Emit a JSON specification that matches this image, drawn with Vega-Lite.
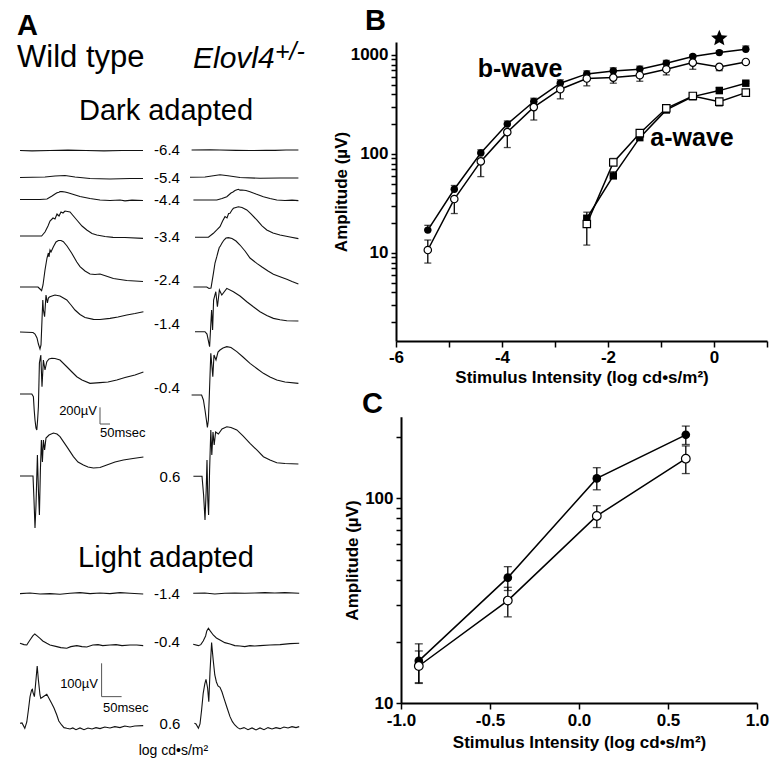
{
"$schema":"https://vega.github.io/schema/vega-lite/v6.json",
"width":776,"height":776,"padding":0,"autosize":{"type":"none"},"background":"white",
"config":{"font":"Liberation Sans","view":{"stroke":null},
 "axis":{"labelFont":"Liberation Sans","titleFont":"Liberation Sans","labelFontSize":17,"labelFontWeight":"bold","labelColor":"black","titleFontSize":17,"titleFontWeight":"bold","titleColor":"black","tickColor":"black","tickWidth":1.5,"domainColor":"black","domainWidth":2,"grid":false,"labelFlush":false,"labelOverlap":false,"labelPadding":3},
 "text":{"color":"black","font":"Liberation Sans"}},
"datasets":{
"dark":[
{"geno":"WT","int":"-6.4","t":0,"v":0},{"geno":"WT","int":"-6.4","t":60,"v":-4},{"geno":"WT","int":"-6.4","t":150,"v":0},{"geno":"WT","int":"-6.4","t":240,"v":4},{"geno":"WT","int":"-6.4","t":330,"v":0},{"geno":"WT","int":"-6.4","t":420,"v":-4},{"geno":"WT","int":"-6.4","t":510,"v":0},{"geno":"WT","int":"-6.4","t":615,"v":0},
{"geno":"WT","int":"-5.4","t":0,"v":0},{"geno":"WT","int":"-5.4","t":125,"v":6},{"geno":"WT","int":"-5.4","t":175,"v":18},{"geno":"WT","int":"-5.4","t":225,"v":24},{"geno":"WT","int":"-5.4","t":275,"v":6},{"geno":"WT","int":"-5.4","t":350,"v":-12},{"geno":"WT","int":"-5.4","t":450,"v":-18},{"geno":"WT","int":"-5.4","t":550,"v":-12},{"geno":"WT","int":"-5.4","t":615,"v":-12},
{"geno":"WT","int":"-4.4","t":0,"v":0},{"geno":"WT","int":"-4.4","t":100,"v":0},{"geno":"WT","int":"-4.4","t":135,"v":6},{"geno":"WT","int":"-4.4","t":160,"v":42},{"geno":"WT","int":"-4.4","t":175,"v":66},{"geno":"WT","int":"-4.4","t":185,"v":80},{"geno":"WT","int":"-4.4","t":195,"v":88},{"geno":"WT","int":"-4.4","t":200,"v":96},{"geno":"WT","int":"-4.4","t":210,"v":94},{"geno":"WT","int":"-4.4","t":225,"v":90},{"geno":"WT","int":"-4.4","t":240,"v":80},{"geno":"WT","int":"-4.4","t":260,"v":66},{"geno":"WT","int":"-4.4","t":300,"v":36},{"geno":"WT","int":"-4.4","t":350,"v":12},{"geno":"WT","int":"-4.4","t":400,"v":-6},{"geno":"WT","int":"-4.4","t":450,"v":-12},{"geno":"WT","int":"-4.4","t":500,"v":-6},{"geno":"WT","int":"-4.4","t":525,"v":-16},{"geno":"WT","int":"-4.4","t":560,"v":-8},{"geno":"WT","int":"-4.4","t":615,"v":-12},
{"geno":"WT","int":"-3.4","t":0,"v":0},{"geno":"WT","int":"-3.4","t":75,"v":0},{"geno":"WT","int":"-3.4","t":108,"v":0},{"geno":"WT","int":"-3.4","t":125,"v":48},{"geno":"WT","int":"-3.4","t":140,"v":120},{"geno":"WT","int":"-3.4","t":150,"v":180},{"geno":"WT","int":"-3.4","t":165,"v":216},{"geno":"WT","int":"-3.4","t":175,"v":204},{"geno":"WT","int":"-3.4","t":185,"v":264},{"geno":"WT","int":"-3.4","t":195,"v":240},{"geno":"WT","int":"-3.4","t":205,"v":288},{"geno":"WT","int":"-3.4","t":215,"v":276},{"geno":"WT","int":"-3.4","t":225,"v":300},{"geno":"WT","int":"-3.4","t":250,"v":288},{"geno":"WT","int":"-3.4","t":284,"v":192},{"geno":"WT","int":"-3.4","t":310,"v":120},{"geno":"WT","int":"-3.4","t":334,"v":72},{"geno":"WT","int":"-3.4","t":360,"v":30},{"geno":"WT","int":"-3.4","t":384,"v":12},{"geno":"WT","int":"-3.4","t":425,"v":-6},{"geno":"WT","int":"-3.4","t":465,"v":-16},{"geno":"WT","int":"-3.4","t":525,"v":-18},{"geno":"WT","int":"-3.4","t":615,"v":-28},
{"geno":"WT","int":"-2.4","t":0,"v":0},{"geno":"WT","int":"-2.4","t":90,"v":0},{"geno":"WT","int":"-2.4","t":100,"v":-24},{"geno":"WT","int":"-2.4","t":108,"v":-44},{"geno":"WT","int":"-2.4","t":115,"v":24},{"geno":"WT","int":"-2.4","t":125,"v":204},{"geno":"WT","int":"-2.4","t":135,"v":348},{"geno":"WT","int":"-2.4","t":142,"v":408},{"geno":"WT","int":"-2.4","t":145,"v":360},{"geno":"WT","int":"-2.4","t":150,"v":444},{"geno":"WT","int":"-2.4","t":155,"v":420},{"geno":"WT","int":"-2.4","t":167,"v":484},{"geno":"WT","int":"-2.4","t":180,"v":540},{"geno":"WT","int":"-2.4","t":192,"v":558},{"geno":"WT","int":"-2.4","t":205,"v":558},{"geno":"WT","int":"-2.4","t":217,"v":544},{"geno":"WT","int":"-2.4","t":235,"v":492},{"geno":"WT","int":"-2.4","t":258,"v":408},{"geno":"WT","int":"-2.4","t":284,"v":300},{"geno":"WT","int":"-2.4","t":300,"v":244},{"geno":"WT","int":"-2.4","t":325,"v":192},{"geno":"WT","int":"-2.4","t":350,"v":156},{"geno":"WT","int":"-2.4","t":375,"v":150},{"geno":"WT","int":"-2.4","t":400,"v":156},{"geno":"WT","int":"-2.4","t":430,"v":132},{"geno":"WT","int":"-2.4","t":467,"v":102},{"geno":"WT","int":"-2.4","t":500,"v":90},{"geno":"WT","int":"-2.4","t":534,"v":78},{"geno":"WT","int":"-2.4","t":575,"v":72},{"geno":"WT","int":"-2.4","t":615,"v":66},
{"geno":"WT","int":"-1.4","t":0,"v":0},{"geno":"WT","int":"-1.4","t":65,"v":-6},{"geno":"WT","int":"-1.4","t":75,"v":-24},{"geno":"WT","int":"-1.4","t":85,"v":-72},{"geno":"WT","int":"-1.4","t":92,"v":-144},{"geno":"WT","int":"-1.4","t":100,"v":-204},{"geno":"WT","int":"-1.4","t":105,"v":-156},{"geno":"WT","int":"-1.4","t":110,"v":144},{"geno":"WT","int":"-1.4","t":114,"v":384},{"geno":"WT","int":"-1.4","t":117,"v":264},{"geno":"WT","int":"-1.4","t":123,"v":184},{"geno":"WT","int":"-1.4","t":130,"v":444},{"geno":"WT","int":"-1.4","t":137,"v":348},{"geno":"WT","int":"-1.4","t":142,"v":408},{"geno":"WT","int":"-1.4","t":147,"v":420},{"geno":"WT","int":"-1.4","t":160,"v":432},{"geno":"WT","int":"-1.4","t":175,"v":444},{"geno":"WT","int":"-1.4","t":200,"v":432},{"geno":"WT","int":"-1.4","t":234,"v":384},{"geno":"WT","int":"-1.4","t":255,"v":324},{"geno":"WT","int":"-1.4","t":275,"v":264},{"geno":"WT","int":"-1.4","t":300,"v":210},{"geno":"WT","int":"-1.4","t":325,"v":174},{"geno":"WT","int":"-1.4","t":367,"v":152},{"geno":"WT","int":"-1.4","t":400,"v":150},{"geno":"WT","int":"-1.4","t":450,"v":164},{"geno":"WT","int":"-1.4","t":490,"v":180},{"geno":"WT","int":"-1.4","t":534,"v":204},{"geno":"WT","int":"-1.4","t":575,"v":222},{"geno":"WT","int":"-1.4","t":617,"v":244},
{"geno":"WT","int":"-0.4","t":0,"v":0},{"geno":"WT","int":"-0.4","t":59,"v":0},{"geno":"WT","int":"-0.4","t":67,"v":-32},{"geno":"WT","int":"-0.4","t":71,"v":-192},{"geno":"WT","int":"-0.4","t":75,"v":-312},{"geno":"WT","int":"-0.4","t":80,"v":-408},{"geno":"WT","int":"-0.4","t":84,"v":-432},{"geno":"WT","int":"-0.4","t":88,"v":-312},{"geno":"WT","int":"-0.4","t":92,"v":-152},{"geno":"WT","int":"-0.4","t":97,"v":372},{"geno":"WT","int":"-0.4","t":104,"v":468},{"geno":"WT","int":"-0.4","t":110,"v":88},{"geno":"WT","int":"-0.4","t":117,"v":408},{"geno":"WT","int":"-0.4","t":125,"v":288},{"geno":"WT","int":"-0.4","t":134,"v":387},{"geno":"WT","int":"-0.4","t":145,"v":420},{"geno":"WT","int":"-0.4","t":159,"v":428},{"geno":"WT","int":"-0.4","t":175,"v":426},{"geno":"WT","int":"-0.4","t":200,"v":408},{"geno":"WT","int":"-0.4","t":234,"v":327},{"geno":"WT","int":"-0.4","t":260,"v":264},{"geno":"WT","int":"-0.4","t":284,"v":207},{"geno":"WT","int":"-0.4","t":310,"v":168},{"geno":"WT","int":"-0.4","t":350,"v":128},{"geno":"WT","int":"-0.4","t":400,"v":136},{"geno":"WT","int":"-0.4","t":440,"v":144},{"geno":"WT","int":"-0.4","t":484,"v":168},{"geno":"WT","int":"-0.4","t":525,"v":198},{"geno":"WT","int":"-0.4","t":575,"v":228},{"geno":"WT","int":"-0.4","t":617,"v":264},
{"geno":"WT","int":"0.6","t":0,"v":0},{"geno":"WT","int":"0.6","t":65,"v":0},{"geno":"WT","int":"0.6","t":70,"v":-288},{"geno":"WT","int":"0.6","t":75,"v":-624},{"geno":"WT","int":"0.6","t":80,"v":-348},{"geno":"WT","int":"0.6","t":87,"v":252},{"geno":"WT","int":"0.6","t":92,"v":-168},{"geno":"WT","int":"0.6","t":97,"v":-468},{"geno":"WT","int":"0.6","t":102,"v":72},{"geno":"WT","int":"0.6","t":107,"v":432},{"geno":"WT","int":"0.6","t":112,"v":168},{"geno":"WT","int":"0.6","t":117,"v":432},{"geno":"WT","int":"0.6","t":123,"v":312},{"geno":"WT","int":"0.6","t":130,"v":456},{"geno":"WT","int":"0.6","t":145,"v":492},{"geno":"WT","int":"0.6","t":167,"v":516},{"geno":"WT","int":"0.6","t":185,"v":504},{"geno":"WT","int":"0.6","t":200,"v":472},{"geno":"WT","int":"0.6","t":234,"v":352},{"geno":"WT","int":"0.6","t":267,"v":232},{"geno":"WT","int":"0.6","t":290,"v":168},{"geno":"WT","int":"0.6","t":317,"v":132},{"geno":"WT","int":"0.6","t":340,"v":108},{"geno":"WT","int":"0.6","t":367,"v":96},{"geno":"WT","int":"0.6","t":400,"v":102},{"geno":"WT","int":"0.6","t":434,"v":132},{"geno":"WT","int":"0.6","t":475,"v":168},{"geno":"WT","int":"0.6","t":517,"v":192},{"geno":"WT","int":"0.6","t":565,"v":210},{"geno":"WT","int":"0.6","t":617,"v":228},
{"geno":"E","int":"-6.4","t":8,"v":0},{"geno":"E","int":"-6.4","t":100,"v":2},{"geno":"E","int":"-6.4","t":150,"v":0},{"geno":"E","int":"-6.4","t":230,"v":-4},{"geno":"E","int":"-6.4","t":300,"v":-6},{"geno":"E","int":"-6.4","t":380,"v":-4},{"geno":"E","int":"-6.4","t":425,"v":-4},{"geno":"E","int":"-6.4","t":480,"v":0},{"geno":"E","int":"-6.4","t":542,"v":0},
{"geno":"E","int":"-5.4","t":0,"v":0},{"geno":"E","int":"-5.4","t":75,"v":4},{"geno":"E","int":"-5.4","t":125,"v":22},{"geno":"E","int":"-5.4","t":150,"v":31},{"geno":"E","int":"-5.4","t":190,"v":18},{"geno":"E","int":"-5.4","t":250,"v":-2},{"geno":"E","int":"-5.4","t":350,"v":-12},{"geno":"E","int":"-5.4","t":450,"v":-8},{"geno":"E","int":"-5.4","t":542,"v":-8},
{"geno":"E","int":"-4.4","t":17,"v":0},{"geno":"E","int":"-4.4","t":100,"v":0},{"geno":"E","int":"-4.4","t":134,"v":0},{"geno":"E","int":"-4.4","t":160,"v":18},{"geno":"E","int":"-4.4","t":184,"v":40},{"geno":"E","int":"-4.4","t":205,"v":84},{"geno":"E","int":"-4.4","t":215,"v":96},{"geno":"E","int":"-4.4","t":225,"v":114},{"geno":"E","int":"-4.4","t":235,"v":122},{"geno":"E","int":"-4.4","t":242,"v":128},{"geno":"E","int":"-4.4","t":250,"v":118},{"geno":"E","int":"-4.4","t":260,"v":120},{"geno":"E","int":"-4.4","t":280,"v":114},{"geno":"E","int":"-4.4","t":300,"v":100},{"geno":"E","int":"-4.4","t":330,"v":72},{"geno":"E","int":"-4.4","t":367,"v":40},{"geno":"E","int":"-4.4","t":400,"v":18},{"geno":"E","int":"-4.4","t":434,"v":0},{"geno":"E","int":"-4.4","t":475,"v":-6},{"geno":"E","int":"-4.4","t":510,"v":-2},{"geno":"E","int":"-4.4","t":542,"v":-8},
{"geno":"E","int":"-3.4","t":25,"v":0},{"geno":"E","int":"-3.4","t":75,"v":0},{"geno":"E","int":"-3.4","t":92,"v":0},{"geno":"E","int":"-3.4","t":117,"v":48},{"geno":"E","int":"-3.4","t":134,"v":88},{"geno":"E","int":"-3.4","t":150,"v":128},{"geno":"E","int":"-3.4","t":163,"v":196},{"geno":"E","int":"-3.4","t":175,"v":248},{"geno":"E","int":"-3.4","t":185,"v":232},{"geno":"E","int":"-3.4","t":193,"v":286},{"geno":"E","int":"-3.4","t":200,"v":288},{"geno":"E","int":"-3.4","t":210,"v":328},{"geno":"E","int":"-3.4","t":217,"v":348},{"geno":"E","int":"-3.4","t":242,"v":367},{"geno":"E","int":"-3.4","t":260,"v":358},{"geno":"E","int":"-3.4","t":284,"v":328},{"geno":"E","int":"-3.4","t":305,"v":280},{"geno":"E","int":"-3.4","t":334,"v":208},{"geno":"E","int":"-3.4","t":360,"v":136},{"geno":"E","int":"-3.4","t":384,"v":88},{"geno":"E","int":"-3.4","t":415,"v":52},{"geno":"E","int":"-3.4","t":450,"v":28},{"geno":"E","int":"-3.4","t":500,"v":4},{"geno":"E","int":"-3.4","t":542,"v":-16},
{"geno":"E","int":"-2.4","t":17,"v":0},{"geno":"E","int":"-2.4","t":84,"v":0},{"geno":"E","int":"-2.4","t":95,"v":-18},{"geno":"E","int":"-2.4","t":105,"v":-12},{"geno":"E","int":"-2.4","t":117,"v":164},{"geno":"E","int":"-2.4","t":125,"v":288},{"geno":"E","int":"-2.4","t":134,"v":364},{"geno":"E","int":"-2.4","t":140,"v":420},{"geno":"E","int":"-2.4","t":147,"v":480},{"geno":"E","int":"-2.4","t":150,"v":484},{"geno":"E","int":"-2.4","t":160,"v":528},{"geno":"E","int":"-2.4","t":170,"v":564},{"geno":"E","int":"-2.4","t":180,"v":588},{"geno":"E","int":"-2.4","t":192,"v":592},{"geno":"E","int":"-2.4","t":210,"v":582},{"geno":"E","int":"-2.4","t":230,"v":552},{"geno":"E","int":"-2.4","t":250,"v":504},{"geno":"E","int":"-2.4","t":275,"v":432},{"geno":"E","int":"-2.4","t":300,"v":348},{"geno":"E","int":"-2.4","t":334,"v":284},{"geno":"E","int":"-2.4","t":360,"v":240},{"geno":"E","int":"-2.4","t":390,"v":192},{"geno":"E","int":"-2.4","t":417,"v":152},{"geno":"E","int":"-2.4","t":450,"v":124},{"geno":"E","int":"-2.4","t":484,"v":92},{"geno":"E","int":"-2.4","t":510,"v":66},{"geno":"E","int":"-2.4","t":542,"v":36},
{"geno":"E","int":"-1.4","t":25,"v":0},{"geno":"E","int":"-1.4","t":75,"v":0},{"geno":"E","int":"-1.4","t":85,"v":-28},{"geno":"E","int":"-1.4","t":98,"v":-180},{"geno":"E","int":"-1.4","t":108,"v":260},{"geno":"E","int":"-1.4","t":113,"v":20},{"geno":"E","int":"-1.4","t":118,"v":380},{"geno":"E","int":"-1.4","t":129,"v":480},{"geno":"E","int":"-1.4","t":137,"v":300},{"geno":"E","int":"-1.4","t":147,"v":500},{"geno":"E","int":"-1.4","t":159,"v":440},{"geno":"E","int":"-1.4","t":184,"v":520},{"geno":"E","int":"-1.4","t":217,"v":480},{"geno":"E","int":"-1.4","t":250,"v":428},{"geno":"E","int":"-1.4","t":284,"v":360},{"geno":"E","int":"-1.4","t":315,"v":302},{"geno":"E","int":"-1.4","t":350,"v":240},{"geno":"E","int":"-1.4","t":384,"v":194},{"geno":"E","int":"-1.4","t":417,"v":160},{"geno":"E","int":"-1.4","t":450,"v":144},{"geno":"E","int":"-1.4","t":484,"v":132},{"geno":"E","int":"-1.4","t":542,"v":128},
{"geno":"E","int":"-0.4","t":8,"v":0},{"geno":"E","int":"-0.4","t":58,"v":0},{"geno":"E","int":"-0.4","t":67,"v":-60},{"geno":"E","int":"-0.4","t":75,"v":-180},{"geno":"E","int":"-0.4","t":82,"v":-300},{"geno":"E","int":"-0.4","t":87,"v":-390},{"geno":"E","int":"-0.4","t":92,"v":-300},{"geno":"E","int":"-0.4","t":97,"v":20},{"geno":"E","int":"-0.4","t":104,"v":500},{"geno":"E","int":"-0.4","t":114,"v":220},{"geno":"E","int":"-0.4","t":120,"v":480},{"geno":"E","int":"-0.4","t":130,"v":420},{"geno":"E","int":"-0.4","t":140,"v":516},{"geno":"E","int":"-0.4","t":150,"v":540},{"geno":"E","int":"-0.4","t":165,"v":564},{"geno":"E","int":"-0.4","t":184,"v":580},{"geno":"E","int":"-0.4","t":205,"v":570},{"geno":"E","int":"-0.4","t":234,"v":520},{"geno":"E","int":"-0.4","t":265,"v":456},{"geno":"E","int":"-0.4","t":300,"v":380},{"geno":"E","int":"-0.4","t":334,"v":318},{"geno":"E","int":"-0.4","t":367,"v":260},{"geno":"E","int":"-0.4","t":400,"v":216},{"geno":"E","int":"-0.4","t":434,"v":180},{"geno":"E","int":"-0.4","t":475,"v":156},{"geno":"E","int":"-0.4","t":542,"v":140},
{"geno":"E","int":"0.6","t":17,"v":0},{"geno":"E","int":"0.6","t":60,"v":0},{"geno":"E","int":"0.6","t":68,"v":-224},{"geno":"E","int":"0.6","t":75,"v":-524},{"geno":"E","int":"0.6","t":81,"v":-164},{"geno":"E","int":"0.6","t":85,"v":196},{"geno":"E","int":"0.6","t":89,"v":-284},{"geno":"E","int":"0.6","t":93,"v":-464},{"geno":"E","int":"0.6","t":98,"v":76},{"geno":"E","int":"0.6","t":104,"v":556},{"geno":"E","int":"0.6","t":109,"v":256},{"geno":"E","int":"0.6","t":115,"v":532},{"geno":"E","int":"0.6","t":121,"v":376},{"geno":"E","int":"0.6","t":128,"v":532},{"geno":"E","int":"0.6","t":142,"v":508},{"geno":"E","int":"0.6","t":160,"v":568},{"geno":"E","int":"0.6","t":184,"v":595},{"geno":"E","int":"0.6","t":205,"v":586},{"geno":"E","int":"0.6","t":234,"v":556},{"geno":"E","int":"0.6","t":265,"v":484},{"geno":"E","int":"0.6","t":300,"v":396},{"geno":"E","int":"0.6","t":334,"v":316},{"geno":"E","int":"0.6","t":367,"v":235},{"geno":"E","int":"0.6","t":400,"v":196},{"geno":"E","int":"0.6","t":434,"v":163},{"geno":"E","int":"0.6","t":475,"v":154},{"geno":"E","int":"0.6","t":542,"v":148}
],
"light":[
{"geno":"WT","int":"-1.4","t":0,"v":-1},{"geno":"WT","int":"-1.4","t":25,"v":1},{"geno":"WT","int":"-1.4","t":50,"v":-2},{"geno":"WT","int":"-1.4","t":75,"v":-1},{"geno":"WT","int":"-1.4","t":100,"v":-3},{"geno":"WT","int":"-1.4","t":125,"v":0},{"geno":"WT","int":"-1.4","t":150,"v":2},{"geno":"WT","int":"-1.4","t":175,"v":-1},{"geno":"WT","int":"-1.4","t":200,"v":1},{"geno":"WT","int":"-1.4","t":225,"v":-1},{"geno":"WT","int":"-1.4","t":250,"v":2},{"geno":"WT","int":"-1.4","t":275,"v":0},{"geno":"WT","int":"-1.4","t":308,"v":-2},
{"geno":"WT","int":"-0.4","t":0,"v":0},{"geno":"WT","int":"-0.4","t":10,"v":-4},{"geno":"WT","int":"-0.4","t":17,"v":-5},{"geno":"WT","int":"-0.4","t":20,"v":1},{"geno":"WT","int":"-0.4","t":25,"v":10},{"geno":"WT","int":"-0.4","t":32,"v":22},{"geno":"WT","int":"-0.4","t":37,"v":28},{"geno":"WT","int":"-0.4","t":42,"v":23},{"geno":"WT","int":"-0.4","t":50,"v":15},{"geno":"WT","int":"-0.4","t":57,"v":7},{"geno":"WT","int":"-0.4","t":67,"v":0},{"geno":"WT","int":"-0.4","t":75,"v":-5},{"geno":"WT","int":"-0.4","t":92,"v":-10},{"geno":"WT","int":"-0.4","t":102,"v":-13},{"geno":"WT","int":"-0.4","t":117,"v":-15},{"geno":"WT","int":"-0.4","t":127,"v":-10},{"geno":"WT","int":"-0.4","t":142,"v":-7},{"geno":"WT","int":"-0.4","t":155,"v":-10},{"geno":"WT","int":"-0.4","t":167,"v":-11},{"geno":"WT","int":"-0.4","t":182,"v":-5},{"geno":"WT","int":"-0.4","t":195,"v":-4},{"geno":"WT","int":"-0.4","t":207,"v":-7},{"geno":"WT","int":"-0.4","t":225,"v":-5},{"geno":"WT","int":"-0.4","t":240,"v":-4},{"geno":"WT","int":"-0.4","t":255,"v":-7},{"geno":"WT","int":"-0.4","t":275,"v":-5},{"geno":"WT","int":"-0.4","t":292,"v":-5},{"geno":"WT","int":"-0.4","t":308,"v":-7},
{"geno":"WT","int":"0.6","t":0,"v":0},{"geno":"WT","int":"0.6","t":5,"v":1},{"geno":"WT","int":"0.6","t":12,"v":-15},{"geno":"WT","int":"0.6","t":17,"v":4},{"geno":"WT","int":"0.6","t":21,"v":40},{"geno":"WT","int":"0.6","t":25,"v":79},{"geno":"WT","int":"0.6","t":29,"v":100},{"geno":"WT","int":"0.6","t":31,"v":102},{"geno":"WT","int":"0.6","t":32,"v":94},{"geno":"WT","int":"0.6","t":36,"v":80},{"geno":"WT","int":"0.6","t":39,"v":118},{"geno":"WT","int":"0.6","t":43,"v":172},{"geno":"WT","int":"0.6","t":46,"v":130},{"geno":"WT","int":"0.6","t":50,"v":85},{"geno":"WT","int":"0.6","t":52,"v":75},{"geno":"WT","int":"0.6","t":57,"v":79},{"geno":"WT","int":"0.6","t":67,"v":87},{"geno":"WT","int":"0.6","t":72,"v":76},{"geno":"WT","int":"0.6","t":79,"v":60},{"geno":"WT","int":"0.6","t":85,"v":46},{"geno":"WT","int":"0.6","t":92,"v":25},{"geno":"WT","int":"0.6","t":97,"v":7},{"geno":"WT","int":"0.6","t":104,"v":-5},{"geno":"WT","int":"0.6","t":110,"v":-13},{"geno":"WT","int":"0.6","t":117,"v":-15},{"geno":"WT","int":"0.6","t":125,"v":-17},{"geno":"WT","int":"0.6","t":132,"v":-14},{"geno":"WT","int":"0.6","t":140,"v":-19},{"geno":"WT","int":"0.6","t":150,"v":-14},{"geno":"WT","int":"0.6","t":160,"v":-19},{"geno":"WT","int":"0.6","t":170,"v":-14},{"geno":"WT","int":"0.6","t":180,"v":-17},{"geno":"WT","int":"0.6","t":190,"v":-13},{"geno":"WT","int":"0.6","t":200,"v":-16},{"geno":"WT","int":"0.6","t":212,"v":-11},{"geno":"WT","int":"0.6","t":225,"v":-14},{"geno":"WT","int":"0.6","t":237,"v":-10},{"geno":"WT","int":"0.6","t":250,"v":-13},{"geno":"WT","int":"0.6","t":262,"v":-8},{"geno":"WT","int":"0.6","t":275,"v":-11},{"geno":"WT","int":"0.6","t":287,"v":-8},{"geno":"WT","int":"0.6","t":308,"v":-7},
{"geno":"E","int":"-1.4","t":8,"v":0},{"geno":"E","int":"-1.4","t":37,"v":1},{"geno":"E","int":"-1.4","t":62,"v":-2},{"geno":"E","int":"-1.4","t":87,"v":0},{"geno":"E","int":"-1.4","t":112,"v":1},{"geno":"E","int":"-1.4","t":137,"v":0},{"geno":"E","int":"-1.4","t":162,"v":1},{"geno":"E","int":"-1.4","t":187,"v":2},{"geno":"E","int":"-1.4","t":212,"v":1},{"geno":"E","int":"-1.4","t":237,"v":2},{"geno":"E","int":"-1.4","t":273,"v":0},
{"geno":"E","int":"-0.4","t":8,"v":0},{"geno":"E","int":"-0.4","t":21,"v":-4},{"geno":"E","int":"-0.4","t":27,"v":-1},{"geno":"E","int":"-0.4","t":33,"v":10},{"geno":"E","int":"-0.4","t":39,"v":25},{"geno":"E","int":"-0.4","t":42,"v":40},{"geno":"E","int":"-0.4","t":46,"v":48},{"geno":"E","int":"-0.4","t":50,"v":41},{"geno":"E","int":"-0.4","t":58,"v":28},{"geno":"E","int":"-0.4","t":66,"v":19},{"geno":"E","int":"-0.4","t":75,"v":13},{"geno":"E","int":"-0.4","t":87,"v":5},{"geno":"E","int":"-0.4","t":100,"v":1},{"geno":"E","int":"-0.4","t":112,"v":-4},{"geno":"E","int":"-0.4","t":125,"v":-5},{"geno":"E","int":"-0.4","t":137,"v":-7},{"geno":"E","int":"-0.4","t":150,"v":-4},{"geno":"E","int":"-0.4","t":162,"v":-5},{"geno":"E","int":"-0.4","t":175,"v":-4},{"geno":"E","int":"-0.4","t":200,"v":-2},{"geno":"E","int":"-0.4","t":225,"v":-1},{"geno":"E","int":"-0.4","t":250,"v":2},{"geno":"E","int":"-0.4","t":273,"v":3},
{"geno":"E","int":"0.6","t":11,"v":0},{"geno":"E","int":"0.6","t":15,"v":-2},{"geno":"E","int":"0.6","t":21,"v":-15},{"geno":"E","int":"0.6","t":25,"v":-2},{"geno":"E","int":"0.6","t":29,"v":40},{"geno":"E","int":"0.6","t":33,"v":90},{"geno":"E","int":"0.6","t":37,"v":118},{"geno":"E","int":"0.6","t":40,"v":132},{"geno":"E","int":"0.6","t":44,"v":106},{"geno":"E","int":"0.6","t":47,"v":65},{"geno":"E","int":"0.6","t":50,"v":154},{"geno":"E","int":"0.6","t":54,"v":242},{"geno":"E","int":"0.6","t":58,"v":190},{"geno":"E","int":"0.6","t":62,"v":145},{"geno":"E","int":"0.6","t":66,"v":124},{"geno":"E","int":"0.6","t":70,"v":112},{"geno":"E","int":"0.6","t":75,"v":108},{"geno":"E","int":"0.6","t":80,"v":94},{"geno":"E","int":"0.6","t":85,"v":75},{"geno":"E","int":"0.6","t":92,"v":49},{"geno":"E","int":"0.6","t":100,"v":20},{"geno":"E","int":"0.6","t":106,"v":5},{"geno":"E","int":"0.6","t":112,"v":-5},{"geno":"E","int":"0.6","t":119,"v":-13},{"geno":"E","int":"0.6","t":125,"v":-17},{"geno":"E","int":"0.6","t":135,"v":-13},{"geno":"E","int":"0.6","t":145,"v":-19},{"geno":"E","int":"0.6","t":155,"v":-14},{"geno":"E","int":"0.6","t":165,"v":-20},{"geno":"E","int":"0.6","t":175,"v":-14},{"geno":"E","int":"0.6","t":185,"v":-19},{"geno":"E","int":"0.6","t":195,"v":-13},{"geno":"E","int":"0.6","t":205,"v":-17},{"geno":"E","int":"0.6","t":215,"v":-13},{"geno":"E","int":"0.6","t":225,"v":-16},{"geno":"E","int":"0.6","t":235,"v":-11},{"geno":"E","int":"0.6","t":245,"v":-14},{"geno":"E","int":"0.6","t":255,"v":-10},{"geno":"E","int":"0.6","t":265,"v":-13},{"geno":"E","int":"0.6","t":273,"v":-10}
],
"labA":[
{"kind":"letter","txt":"A","t":-15,"v":1386},
{"kind":"head","txt":"Wild type","t":-15,"v":1002},
{"kind":"ital","txt":"Elovl4","t":865,"v":990},
{"kind":"sup","txt":"+/-","t":1275,"v":1086},
{"kind":"sub","txt":"Dark adapted","t":730,"v":366},
{"kind":"sub","txt":"Light adapted","t":730,"v":-4994},
{"kind":"int","txt":"-6.4","t":735,"v":-59},
{"kind":"int","txt":"-5.4","t":735,"v":-386},
{"kind":"int","txt":"-4.4","t":735,"v":-659},
{"kind":"int","txt":"-3.4","t":735,"v":-1099},
{"kind":"int","txt":"-2.4","t":735,"v":-1619},
{"kind":"int","txt":"-1.4","t":735,"v":-2138},
{"kind":"int","txt":"-0.4","t":735,"v":-2906},
{"kind":"int","txt":"0.6","t":750,"v":-3979},
{"kind":"int","txt":"-1.4","t":735,"v":-5378},
{"kind":"int","txt":"-0.4","t":735,"v":-5959},
{"kind":"int","txt":"0.6","t":750,"v":-6938},
{"kind":"unit","txt":"log cd•s/m²","t":767,"v":-7254},
{"kind":"barR","txt":"200µV","t":385,"v":-3174},
{"kind":"barL","txt":"50msec","t":400,"v":-3434},
{"kind":"barR","txt":"100µV","t":390,"v":-6454},
{"kind":"barL","txt":"50msec","t":415,"v":-6734}
],
"barsDark":[{"t":400,"t2":400,"v":-3282,"v2":-3082},{"t":400,"t2":450,"v":-3282,"v2":-3282}],
"barsLight":[{"t":204,"t2":204,"v":80,"v2":180},{"t":204,"t2":254,"v":80,"v2":80}],
"B":[
{"wave":"b","geno":"WT","x":-5.4,"v":17},{"wave":"b","geno":"WT","x":-4.9,"v":44},{"wave":"b","geno":"WT","x":-4.4,"v":102},{"wave":"b","geno":"WT","x":-3.9,"v":200},{"wave":"b","geno":"WT","x":-3.4,"v":338},{"wave":"b","geno":"WT","x":-2.9,"v":518},{"wave":"b","geno":"WT","x":-2.4,"v":643},{"wave":"b","geno":"WT","x":-1.9,"v":688},{"wave":"b","geno":"WT","x":-1.4,"v":716},{"wave":"b","geno":"WT","x":-0.9,"v":824},{"wave":"b","geno":"WT","x":-0.4,"v":962},{"wave":"b","geno":"WT","x":0.1,"v":1055},{"wave":"b","geno":"WT","x":0.6,"v":1140},
{"wave":"b","geno":"E","x":-5.4,"v":10.7},{"wave":"b","geno":"E","x":-4.9,"v":35},{"wave":"b","geno":"E","x":-4.4,"v":84},{"wave":"b","geno":"E","x":-3.9,"v":166},{"wave":"b","geno":"E","x":-3.4,"v":297},{"wave":"b","geno":"E","x":-2.9,"v":450},{"wave":"b","geno":"E","x":-2.4,"v":577},{"wave":"b","geno":"E","x":-1.9,"v":590},{"wave":"b","geno":"E","x":-1.4,"v":624},{"wave":"b","geno":"E","x":-0.9,"v":716},{"wave":"b","geno":"E","x":-0.4,"v":836},{"wave":"b","geno":"E","x":0.1,"v":757},{"wave":"b","geno":"E","x":0.6,"v":849},
{"wave":"a","geno":"WT","x":-2.4,"v":22.4},{"wave":"a","geno":"WT","x":-1.9,"v":60},{"wave":"a","geno":"WT","x":-1.4,"v":146},{"wave":"a","geno":"WT","x":-0.9,"v":278},{"wave":"a","geno":"WT","x":-0.4,"v":379},{"wave":"a","geno":"WT","x":0.1,"v":436},{"wave":"a","geno":"WT","x":0.6,"v":518},
{"wave":"a","geno":"E","x":-2.4,"v":19.6},{"wave":"a","geno":"E","x":-1.9,"v":82},{"wave":"a","geno":"E","x":-1.4,"v":162},{"wave":"a","geno":"E","x":-0.9,"v":289},{"wave":"a","geno":"E","x":-0.4,"v":385},{"wave":"a","geno":"E","x":0.1,"v":337},{"wave":"a","geno":"E","x":0.6,"v":416}
],
"Berr":[
{"id":"bW1","x":-5.4,"v":17},{"id":"bW1","x":-5.4,"v":19},{"id":"bW2","x":-4.9,"v":44},{"id":"bW2","x":-4.9,"v":48},{"id":"bW3","x":-4.4,"v":102},{"id":"bW3","x":-4.4,"v":110},{"id":"bW4","x":-3.9,"v":200},{"id":"bW4","x":-3.9,"v":215},{"id":"bW5","x":-3.4,"v":338},{"id":"bW5","x":-3.4,"v":365},{"id":"bW6","x":-2.9,"v":518},{"id":"bW6","x":-2.9,"v":560},{"id":"bW7","x":-2.4,"v":643},{"id":"bW7","x":-2.4,"v":690},{"id":"bW8","x":-1.9,"v":688},{"id":"bW8","x":-1.9,"v":740},{"id":"bW9","x":-1.4,"v":716},{"id":"bW9","x":-1.4,"v":770},{"id":"bW10","x":-0.9,"v":824},{"id":"bW10","x":-0.9,"v":880},{"id":"bW11","x":-0.4,"v":962},{"id":"bW11","x":-0.4,"v":1000},{"id":"bW12","x":0.1,"v":1055},{"id":"bW12","x":0.1,"v":1100},{"id":"bW13","x":0.6,"v":1140},{"id":"bW13","x":0.6,"v":1230},
{"id":"bE1","x":-5.4,"v":7.9},{"id":"bE1","x":-5.4,"v":13.5},{"id":"bE2","x":-4.9,"v":25},{"id":"bE2","x":-4.9,"v":35},{"id":"bE3","x":-4.4,"v":59},{"id":"bE3","x":-4.4,"v":84},{"id":"bE4","x":-3.9,"v":116},{"id":"bE4","x":-3.9,"v":166},{"id":"bE5","x":-3.4,"v":220},{"id":"bE5","x":-3.4,"v":297},{"id":"bE6","x":-2.9,"v":360},{"id":"bE6","x":-2.9,"v":450},{"id":"bE7","x":-2.4,"v":487},{"id":"bE7","x":-2.4,"v":577},{"id":"bE8","x":-1.9,"v":518},{"id":"bE8","x":-1.9,"v":590},{"id":"bE9","x":-1.4,"v":542},{"id":"bE9","x":-1.4,"v":624},{"id":"bE10","x":-0.9,"v":628},{"id":"bE10","x":-0.9,"v":716},{"id":"bE11","x":-0.4,"v":716},{"id":"bE11","x":-0.4,"v":836},{"id":"bE12","x":0.1,"v":693},{"id":"bE12","x":0.1,"v":757},{"id":"bE13","x":0.6,"v":820},{"id":"bE13","x":0.6,"v":849},
{"id":"aW1","x":-2.4,"v":22.4},{"id":"aW1","x":-2.4,"v":25.8},{"id":"aW2","x":-1.9,"v":60},{"id":"aW2","x":-1.9,"v":66},{"id":"aW3","x":-1.4,"v":146},{"id":"aW3","x":-1.4,"v":155},{"id":"aW4","x":-0.9,"v":278},{"id":"aW4","x":-0.9,"v":300},{"id":"aW5","x":-0.4,"v":379},{"id":"aW5","x":-0.4,"v":400},{"id":"aW6","x":0.1,"v":436},{"id":"aW6","x":0.1,"v":470},{"id":"aW7","x":0.6,"v":518},{"id":"aW7","x":0.6,"v":540},
{"id":"aE1","x":-2.4,"v":12},{"id":"aE1","x":-2.4,"v":19.6},{"id":"aE2","x":-1.9,"v":82},{"id":"aE2","x":-1.9,"v":90},{"id":"aE3","x":-1.4,"v":150},{"id":"aE3","x":-1.4,"v":162},{"id":"aE4","x":-0.9,"v":262},{"id":"aE4","x":-0.9,"v":289},{"id":"aE5","x":-0.4,"v":370},{"id":"aE5","x":-0.4,"v":385},{"id":"aE6","x":0.1,"v":305},{"id":"aE6","x":0.1,"v":337},{"id":"aE7","x":0.6,"v":400},{"id":"aE7","x":0.6,"v":416}
],
"C":[
{"geno":"WT","x":-0.9,"v":16.1},{"geno":"WT","x":-0.4,"v":41},{"geno":"WT","x":0.1,"v":125},{"geno":"WT","x":0.6,"v":204},
{"geno":"E","x":-0.9,"v":15.2},{"geno":"E","x":-0.4,"v":31.7},{"geno":"E","x":0.1,"v":82},{"geno":"E","x":0.6,"v":156}
],
"Cerr":[
{"id":"W1","x":-0.9,"v":12.6},{"id":"W1","x":-0.9,"v":19.5},{"id":"W2","x":-0.4,"v":35.5},{"id":"W2","x":-0.4,"v":46.4},{"id":"W3","x":0.1,"v":110},{"id":"W3","x":0.1,"v":141},{"id":"W4","x":0.6,"v":183},{"id":"W4","x":0.6,"v":225},
{"id":"E1","x":-0.9,"v":12.5},{"id":"E1","x":-0.9,"v":18},{"id":"E2","x":-0.4,"v":26.4},{"id":"E2","x":-0.4,"v":36.8},{"id":"E3","x":0.1,"v":72},{"id":"E3","x":0.1,"v":92},{"id":"E4","x":0.6,"v":132},{"id":"E4","x":0.6,"v":180}
],
"star":[{"x":0.1,"v":1471}],
"annB":[{"kind":"wave","txt":"b-wave","x":-3.66,"v":598},{"kind":"wave","txt":"a-wave","x":-0.415,"v":121},{"kind":"letter","txt":"B","x":-6.585,"v":1784}],
"annC":[{"txt":"C","x":-1.219,"v":259.8}]
},
"layer":[
{
"data":{"name":"dark"},"transform":[{"filter":"datum.geno==='WT'"}],
"encoding":{"x":{"field":"t","type":"quantitative","scale":{"domain":[0,600],"range":[20,140],"nice":false,"zero":false},"axis":null}},
"layer":[
{"transform":[{"filter":"datum.int==='-6.4'"}],"mark":{"type":"line","color":"#111","strokeWidth":1.1},"encoding":{"y":{"field":"v","type":"quantitative","scale":{"domain":[-600,600],"range":[200.5,100.5],"nice":false,"zero":false},"axis":null}}},
{"transform":[{"filter":"datum.int==='-5.4'"}],"mark":{"type":"line","color":"#111","strokeWidth":1.1},"encoding":{"y":{"field":"v","type":"quantitative","scale":{"domain":[-600,600],"range":[227.5,127.5],"nice":false,"zero":false},"axis":null}}},
{"transform":[{"filter":"datum.int==='-4.4'"}],"mark":{"type":"line","color":"#111","strokeWidth":1.1},"encoding":{"y":{"field":"v","type":"quantitative","scale":{"domain":[-600,600],"range":[249.5,149.5],"nice":false,"zero":false},"axis":null}}},
{"transform":[{"filter":"datum.int==='-3.4'"}],"mark":{"type":"line","color":"#111","strokeWidth":1.1},"encoding":{"y":{"field":"v","type":"quantitative","scale":{"domain":[-600,600],"range":[286,186],"nice":false,"zero":false},"axis":null}}},
{"transform":[{"filter":"datum.int==='-2.4'"}],"mark":{"type":"line","color":"#111","strokeWidth":1.1},"encoding":{"y":{"field":"v","type":"quantitative","scale":{"domain":[-600,600],"range":[337,237],"nice":false,"zero":false},"axis":null}}},
{"transform":[{"filter":"datum.int==='-1.4'"}],"mark":{"type":"line","color":"#111","strokeWidth":1.1},"encoding":{"y":{"field":"v","type":"quantitative","scale":{"domain":[-600,600],"range":[382,282],"nice":false,"zero":false},"axis":null}}},
{"transform":[{"filter":"datum.int==='-0.4'"}],"mark":{"type":"line","color":"#111","strokeWidth":1.1},"encoding":{"y":{"field":"v","type":"quantitative","scale":{"domain":[-600,600],"range":[444,344],"nice":false,"zero":false},"axis":null}}},
{"transform":[{"filter":"datum.int==='0.6'"}],"mark":{"type":"line","color":"#111","strokeWidth":1.1},"encoding":{"y":{"field":"v","type":"quantitative","scale":{"domain":[-600,600],"range":[526,426],"nice":false,"zero":false},"axis":null}}}
],
"resolve":{"scale":{"y":"independent"}}
},
{
"data":{"name":"dark"},"transform":[{"filter":"datum.geno==='E'"}],
"encoding":{"x":{"field":"t","type":"quantitative","scale":{"domain":[0,600],"range":[190,310],"nice":false,"zero":false},"axis":null}},
"layer":[
{"transform":[{"filter":"datum.int==='-6.4'"}],"mark":{"type":"line","color":"#111","strokeWidth":1.1},"encoding":{"y":{"field":"v","type":"quantitative","scale":{"domain":[-600,600],"range":[200,100],"nice":false,"zero":false},"axis":null}}},
{"transform":[{"filter":"datum.int==='-5.4'"}],"mark":{"type":"line","color":"#111","strokeWidth":1.1},"encoding":{"y":{"field":"v","type":"quantitative","scale":{"domain":[-600,600],"range":[227.3,127.3],"nice":false,"zero":false},"axis":null}}},
{"transform":[{"filter":"datum.int==='-4.4'"}],"mark":{"type":"line","color":"#111","strokeWidth":1.1},"encoding":{"y":{"field":"v","type":"quantitative","scale":{"domain":[-600,600],"range":[250,150],"nice":false,"zero":false},"axis":null}}},
{"transform":[{"filter":"datum.int==='-3.4'"}],"mark":{"type":"line","color":"#111","strokeWidth":1.1},"encoding":{"y":{"field":"v","type":"quantitative","scale":{"domain":[-600,600],"range":[287.3,187.3],"nice":false,"zero":false},"axis":null}}},
{"transform":[{"filter":"datum.int==='-2.4'"}],"mark":{"type":"line","color":"#111","strokeWidth":1.1},"encoding":{"y":{"field":"v","type":"quantitative","scale":{"domain":[-600,600],"range":[337,237],"nice":false,"zero":false},"axis":null}}},
{"transform":[{"filter":"datum.int==='-1.4'"}],"mark":{"type":"line","color":"#111","strokeWidth":1.1},"encoding":{"y":{"field":"v","type":"quantitative","scale":{"domain":[-600,600],"range":[381.7,281.7],"nice":false,"zero":false},"axis":null}}},
{"transform":[{"filter":"datum.int==='-0.4'"}],"mark":{"type":"line","color":"#111","strokeWidth":1.1},"encoding":{"y":{"field":"v","type":"quantitative","scale":{"domain":[-600,600],"range":[445,345],"nice":false,"zero":false},"axis":null}}},
{"transform":[{"filter":"datum.int==='0.6'"}],"mark":{"type":"line","color":"#111","strokeWidth":1.1},"encoding":{"y":{"field":"v","type":"quantitative","scale":{"domain":[-600,600],"range":[526.3,426.3],"nice":false,"zero":false},"axis":null}}}
],
"resolve":{"scale":{"y":"independent"}}
},
{
"encoding":{"x":{"field":"t","type":"quantitative","scale":{"domain":[0,300],"range":[20,140],"nice":false,"zero":false},"axis":null}},
"layer":[
{"data":{"name":"light"},"transform":[{"filter":"datum.geno==='WT' && datum.int==='-1.4'"}],"mark":{"type":"line","color":"#111","strokeWidth":1.1},"encoding":{"y":{"field":"v","type":"quantitative","scale":{"domain":[-150,150],"range":[643.3,543.3],"nice":false,"zero":false},"axis":null}}},
{"data":{"name":"light"},"transform":[{"filter":"datum.geno==='WT' && datum.int==='-0.4'"}],"mark":{"type":"line","color":"#111","strokeWidth":1.1},"encoding":{"y":{"field":"v","type":"quantitative","scale":{"domain":[-150,150],"range":[693.3,593.3],"nice":false,"zero":false},"axis":null}}},
{"data":{"name":"light"},"transform":[{"filter":"datum.geno==='WT' && datum.int==='0.6'"}],"mark":{"type":"line","color":"#111","strokeWidth":1.1},"encoding":{"y":{"field":"v","type":"quantitative","scale":{"domain":[-150,150],"range":[773.3,673.3],"nice":false,"zero":false},"axis":null}}},
{"data":{"name":"barsLight"},"mark":{"type":"rule","color":"#555","strokeWidth":1},"encoding":{"x2":{"field":"t2"},"y":{"field":"v","type":"quantitative","scale":{"domain":[-150,150],"range":[773.3,673.3],"nice":false,"zero":false},"axis":null},"y2":{"field":"v2"}}}
],
"resolve":{"scale":{"y":"independent"}}
},
{
"data":{"name":"light"},"transform":[{"filter":"datum.geno==='E'"}],
"encoding":{"x":{"field":"t","type":"quantitative","scale":{"domain":[0,300],"range":[190,310],"nice":false,"zero":false},"axis":null}},
"layer":[
{"transform":[{"filter":"datum.int==='-1.4'"}],"mark":{"type":"line","color":"#111","strokeWidth":1.1},"encoding":{"y":{"field":"v","type":"quantitative","scale":{"domain":[-150,150],"range":[643.3,543.3],"nice":false,"zero":false},"axis":null}}},
{"transform":[{"filter":"datum.int==='-0.4'"}],"mark":{"type":"line","color":"#111","strokeWidth":1.1},"encoding":{"y":{"field":"v","type":"quantitative","scale":{"domain":[-150,150],"range":[694.3,594.3],"nice":false,"zero":false},"axis":null}}},
{"transform":[{"filter":"datum.int==='0.6'"}],"mark":{"type":"line","color":"#111","strokeWidth":1.1},"encoding":{"y":{"field":"v","type":"quantitative","scale":{"domain":[-150,150],"range":[773.3,673.3],"nice":false,"zero":false},"axis":null}}}
],
"resolve":{"scale":{"y":"independent"}}
},
{
"data":{"name":"labA"},
"encoding":{"x":{"field":"t","type":"quantitative","scale":{"domain":[0,600],"range":[20,140],"nice":false,"zero":false},"axis":null},"y":{"field":"v","type":"quantitative","scale":{"domain":[-7200,1800],"range":[750.5,0.5],"nice":false,"zero":false},"axis":null}},
"layer":[
{"transform":[{"filter":"datum.kind==='letter'"}],"mark":{"type":"text","fontSize":29,"fontWeight":"bold","align":"left","baseline":"alphabetic"},"encoding":{"text":{"field":"txt"}}},
{"transform":[{"filter":"datum.kind==='head'"}],"mark":{"type":"text","fontSize":31,"align":"left","baseline":"alphabetic"},"encoding":{"text":{"field":"txt"}}},
{"transform":[{"filter":"datum.kind==='ital'"}],"mark":{"type":"text","fontSize":30,"fontStyle":"italic","align":"left","baseline":"alphabetic"},"encoding":{"text":{"field":"txt"}}},
{"transform":[{"filter":"datum.kind==='sup'"}],"mark":{"type":"text","fontSize":25,"fontStyle":"italic","align":"left","baseline":"alphabetic"},"encoding":{"text":{"field":"txt"}}},
{"transform":[{"filter":"datum.kind==='sub'"}],"mark":{"type":"text","fontSize":29,"align":"center","baseline":"alphabetic"},"encoding":{"text":{"field":"txt"}}},
{"transform":[{"filter":"datum.kind==='int'"}],"mark":{"type":"text","fontSize":15,"align":"center","baseline":"alphabetic"},"encoding":{"text":{"field":"txt"}}},
{"transform":[{"filter":"datum.kind==='unit'"}],"mark":{"type":"text","fontSize":14,"align":"center","baseline":"alphabetic"},"encoding":{"text":{"field":"txt"}}},
{"transform":[{"filter":"datum.kind==='barR'"}],"mark":{"type":"text","fontSize":13,"align":"right","baseline":"alphabetic"},"encoding":{"text":{"field":"txt"}}},
{"transform":[{"filter":"datum.kind==='barL'"}],"mark":{"type":"text","fontSize":13,"align":"left","baseline":"alphabetic"},"encoding":{"text":{"field":"txt"}}},
{"data":{"name":"barsDark"},"mark":{"type":"rule","color":"#555","strokeWidth":1},"encoding":{"x2":{"field":"t2"},"y2":{"field":"v2"}}}
]
},
{
"data":{"name":"B"},
"encoding":{
"x":{"field":"x","type":"quantitative","scale":{"domain":[-6,1],"range":[396,767],"nice":false,"zero":false},
 "axis":{"orient":"bottom","offset":-435,"values":[-6,-5,-4,-3,-2,-1,0,1],"labelExpr":"datum.value % 2 === 0 ? (datum.value < 0 ? '-' + abs(datum.value) : '' + datum.value) : ''","tickSize":6,"labelPadding":2,"labelFontSize":17,"labelFontWeight":"bold","labelColor":"black","title":"Stimulus Intensity (log cd•s/m²)","titlePadding":4}},
"y":{"field":"v","type":"quantitative","scale":{"type":"log","domain":[1.29,1350],"range":[341,42],"nice":false},
 "axis":{"orient":"left","offset":-396,"values":[2,3,4,5,6,7,8,9,10,20,30,40,50,60,70,80,90,100,200,300,400,500,600,700,800,900,1000],"labelExpr":"datum.value === 10 || datum.value === 100 || datum.value === 1000 ? '' + datum.value : ''","tickSize":5,"labelFontSize":17,"labelFontWeight":"bold","labelColor":"black","title":"Amplitude (µV)","titlePadding":0}}},
"layer":[
{"mark":{"type":"line","color":"black","strokeWidth":1.5},"encoding":{"detail":[{"field":"wave"},{"field":"geno"}]}},
{"data":{"name":"Berr"},"mark":{"type":"line","color":"black","strokeWidth":1.3},"encoding":{"detail":{"field":"id"}}},
{"data":{"name":"Berr"},"mark":{"type":"tick","orient":"horizontal","size":7,"thickness":1.3,"color":"black"}},
{"transform":[{"filter":"datum.geno==='WT'"}],"mark":{"type":"point","filled":true,"color":"black","size":55,"opacity":1},"encoding":{"shape":{"field":"wave","type":"nominal","scale":{"domain":["b","a"],"range":["circle","square"]},"legend":null}}},
{"transform":[{"filter":"datum.geno==='E'"}],"mark":{"type":"point","filled":true,"fill":"white","stroke":"black","strokeWidth":1.2,"size":55,"opacity":1},"encoding":{"shape":{"field":"wave","type":"nominal","scale":{"domain":["b","a"],"range":["circle","square"]},"legend":null}}},
{"data":{"name":"star"},"mark":{"type":"point","shape":"M0,-1L0.2645,-0.364L0.951,-0.309L0.428,0.139L0.588,0.809L0,0.45L-0.588,0.809L-0.428,0.139L-0.951,-0.309L-0.2645,-0.364Z","filled":true,"color":"black","size":300,"opacity":1}},
{"data":{"name":"annB"},"transform":[{"filter":"datum.kind==='wave'"}],"mark":{"type":"text","fontSize":25,"fontWeight":"bold","align":"center","baseline":"alphabetic"},"encoding":{"text":{"field":"txt"}}},
{"data":{"name":"annB"},"transform":[{"filter":"datum.kind==='letter'"}],"mark":{"type":"text","fontSize":29,"fontWeight":"bold","align":"left","baseline":"alphabetic"},"encoding":{"text":{"field":"txt"}}}
]
},
{
"data":{"name":"C"},
"encoding":{
"x":{"field":"x","type":"quantitative","scale":{"domain":[-1,1],"range":[401,757],"nice":false,"zero":false},
 "axis":{"orient":"bottom","offset":-73,"values":[-1,-0.5,0,0.5,1],"labelExpr":"datum.value < 0 ? '-' + format(abs(datum.value), '.1f') : format(datum.value, '.1f')","tickSize":6,"labelPadding":3,"labelFontSize":17,"labelFontWeight":"bold","labelColor":"black","title":"Stimulus Intensity (log cd•s/m²)","titlePadding":6}},
"y":{"field":"v","type":"quantitative","scale":{"type":"log","domain":[10,250],"range":[703.3,416.7],"nice":false},
 "axis":{"orient":"left","offset":-401,"values":[10,20,30,40,50,60,70,80,90,100,200],"labelExpr":"datum.value === 10 || datum.value === 100 ? '' + datum.value : ''","tickSize":5,"labelFontSize":17,"labelFontWeight":"bold","labelColor":"black","title":"Amplitude (µV)","titlePadding":3}}},
"layer":[
{"mark":{"type":"line","color":"black","strokeWidth":1.5},"encoding":{"detail":{"field":"geno"}}},
{"data":{"name":"Cerr"},"mark":{"type":"line","color":"black","strokeWidth":1.3},"encoding":{"detail":{"field":"id"}}},
{"data":{"name":"Cerr"},"mark":{"type":"tick","orient":"horizontal","size":8,"thickness":1.3,"color":"black"}},
{"transform":[{"filter":"datum.geno==='WT'"}],"mark":{"type":"point","shape":"circle","filled":true,"color":"black","size":75,"opacity":1}},
{"transform":[{"filter":"datum.geno==='E'"}],"mark":{"type":"point","shape":"circle","filled":true,"fill":"white","stroke":"black","strokeWidth":1.2,"size":75,"opacity":1}},
{"data":{"name":"annC"},"mark":{"type":"text","fontSize":29,"fontWeight":"bold","align":"left","baseline":"alphabetic"},"encoding":{"text":{"field":"txt"}}}
]
}
],
"resolve":{"scale":{"x":"independent","y":"independent"}}
}
